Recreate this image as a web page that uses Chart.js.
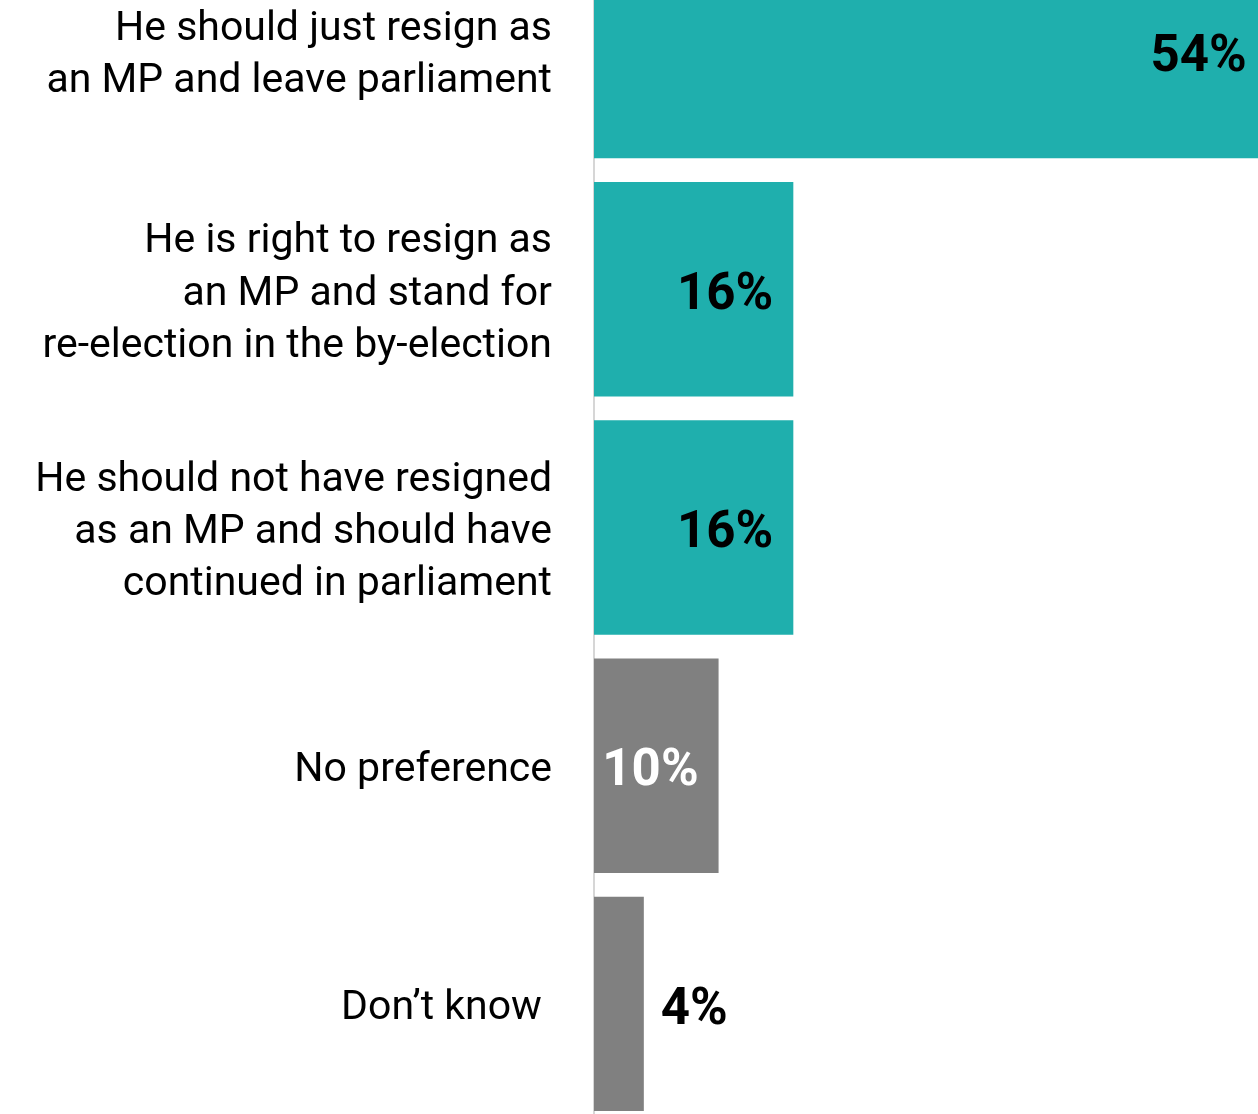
<!DOCTYPE html>
<html>
<head>
<meta charset="utf-8">
<script src="https://cdn.jsdelivr.net/npm/chart.js@4"></script>
<style>
  html, body { margin: 0; padding: 0; background: #ffffff; overflow: hidden; }
  #contenedor { position: absolute; left: 0; top: -68px; width: 1258px; height: 1191px; }
</style>
</head>
<body>
<div id="contenedor"><canvas id="barChart"></canvas></div>
<script>
// Datos del gráfico
const categorias = [
  ['He should just resign as', 'an MP and leave parliament'],
  ['He is right to resign as', 'an MP and stand for', 're-election in the by-election'],
  ['He should not have resigned', 'as an MP and should have', 'continued in parliament'],
  'No preference',
  'Don\u2019t know '
];
const valores = [54, 16, 16, 10, 4];
const etiquetasValor = ['54%', '16%', '16%', '10%', '4%'];

// Colores de las barras
const colorTeal = '#1fafad';
const colorGris = '#808080';
const coloresBarras = [colorTeal, colorTeal, colorTeal, colorGris, colorGris];

// Plugin para escribir los porcentajes en las barras
const etiquetasPlugin = {
  id: 'etiquetas',
  afterDatasetsDraw(chart) {
    const ctx = chart.ctx;
    const escalaX = chart.scales.x;
    const meta = chart.getDatasetMeta(0);
    ctx.save();
    ctx.font = 'bold 51px Roboto';
    ctx.textBaseline = 'middle';
    meta.data.forEach((barra, i) => {
      const fin = escalaX.getPixelForValue(valores[i]);
      if (valores[i] >= 10) {
        ctx.textAlign = 'right';
        ctx.fillStyle = coloresBarras[i] === colorGris ? '#ffffff' : '#000000';
        ctx.fillText(etiquetasValor[i], fin - 20, barra.y + 7);
      } else {
        ctx.textAlign = 'left';
        ctx.fillStyle = '#000000';
        ctx.fillText(etiquetasValor[i], fin + 17, barra.y + 7);
      }
    });
    ctx.restore();
  }
};

new Chart(document.getElementById('barChart'), {
  type: 'bar',
  data: {
    labels: categorias,
    datasets: [{
      data: valores,
      backgroundColor: coloresBarras,
      borderWidth: 0,
      barPercentage: 0.9,
      categoryPercentage: 1
    }]
  },
  options: {
    indexAxis: 'y',
    responsive: true,
    maintainAspectRatio: false,
    animation: false,
    layout: { padding: 0 },
    plugins: {
      legend: { display: false },
      tooltip: { enabled: false }
    },
    scales: {
      x: {
        display: false,
        min: 0,
        max: 53.3
      },
      y: {
        grid: { display: false, drawTicks: false },
        border: { display: true, color: '#d6d6d6', width: 2 },
        ticks: {
          color: '#000000',
          padding: 42,
          labelOffset: 5,
          font: { family: 'Roboto', size: 41, lineHeight: 1.27 }
        },
        afterFit(escala) {
          escala.width = 594; // ancho fijo para la columna de etiquetas
          // sin relleno extra arriba/abajo por las etiquetas de varias líneas
          escala.paddingTop = 0;
          escala.paddingBottom = 0;
        }
      }
    }
  },
  plugins: [etiquetasPlugin]
});
</script>
</body>
</html>
